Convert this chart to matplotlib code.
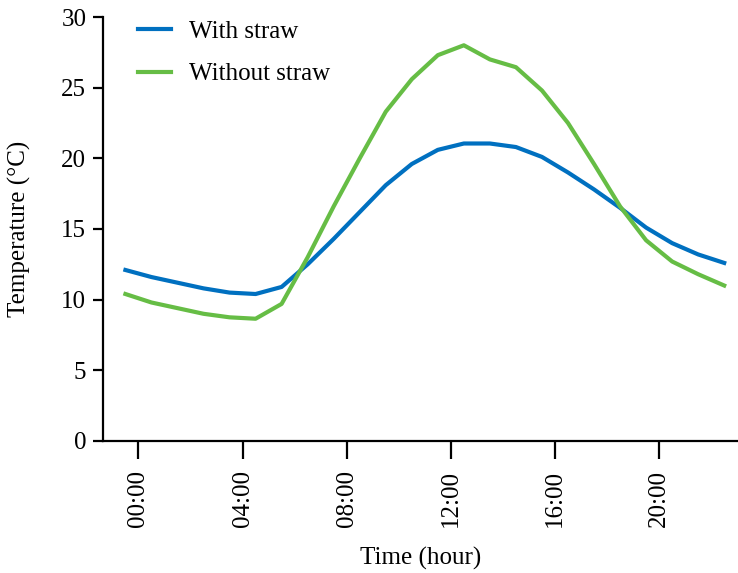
import numpy as np
import matplotlib
matplotlib.use("Agg")
from matplotlib import pyplot as plt

# hourly readings, plotted in the middle of each hour slot
with_straw = [12.1, 11.6, 11.2, 10.8, 10.5, 10.4, 10.9, 12.5, 14.3, 16.2,
              18.1, 19.6, 20.6, 21.05, 21.05, 20.8, 20.1, 19.0, 17.8, 16.5,
              15.1, 14.0, 13.2, 12.6]
without_straw = [10.4, 9.8, 9.4, 9.0, 8.75, 8.65, 9.7, 13.0, 16.6, 20.0,
                 23.3, 25.6, 27.3, 28.0, 27.0, 26.45, 24.8, 22.5, 19.6, 16.6,
                 14.2, 12.7, 11.8, 11.0]
tick_labels = ["00:00", "04:00", "08:00", "12:00", "16:00", "20:00"]
y_ticks = [0, 5, 10, 15, 20, 25, 30]

plt.rcParams["font.family"] = ["Liberation Serif", "DejaVu Serif"]
plt.rcParams["font.size"] = 18

fig = plt.figure(figsize=(7.38, 5.73), dpi=100)
ax = fig.add_axes([0.1396, 0.2304, 0.8604, 0.7399])

idx = np.arange(len(with_straw))
ax.plot(idx, with_straw, color="#0070C0", lw=3, label="With straw")
ax.plot(idx, without_straw, color="#66BD45", lw=3, label="Without straw")

ax.set_xlim(-0.86, 23.53)
ax.set_ylim(0, 30)
ax.set_xticks(np.arange(0.5, 24, 4))
ax.set_xticklabels(tick_labels, rotation=90)
ax.set_yticks(y_ticks)

for s in ("top", "right"):
    ax.spines[s].set_visible(False)
for s in ("left", "bottom"):
    ax.spines[s].set_linewidth(1.6)
ax.tick_params(axis="y", length=7, width=1.6, pad=5)
ax.tick_params(axis="x", length=13, width=1.6, pad=8)

ax.set_xlabel("Time (hour)", labelpad=14)
ax.set_ylabel("Temperature (°C)", labelpad=22)

ax.legend(loc="upper left", bbox_to_anchor=(0.02, 1.045), frameon=False,
          handlelength=1.3, handletextpad=0.75, labelspacing=0.8)

fig.savefig("out.png", dpi=100)
